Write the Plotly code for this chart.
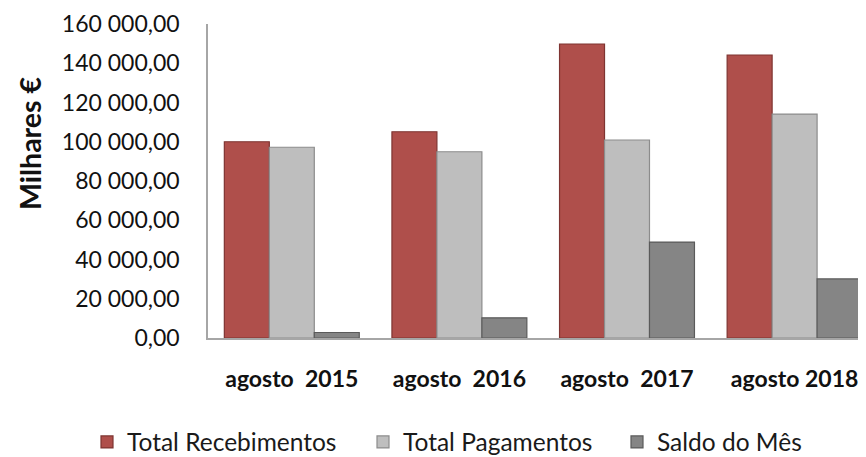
import plotly.graph_objects as go

categories = ["agosto\u00a0 2015", "agosto\u00a0 2016", "agosto\u00a0 2017", "agosto 2018"]
total_recebimentos = [100000, 105100, 149800, 144200]
total_pagamentos = [97200, 94900, 100900, 114100]
saldo_do_mes = [2800, 10300, 48900, 30100]
y_ticks = [0, 20000, 40000, 60000, 80000, 100000, 120000, 140000, 160000]

series = [
    ("Total Recebimentos", total_recebimentos, "#AF4F4B", "#7E3431", "legend"),
    ("Total Pagamentos", total_pagamentos, "#BEBEBE", "#8C8C8C", "legend2"),
    ("Saldo do Mês", saldo_do_mes, "#858585", "#5A5A5A", "legend3"),
]

fig = go.Figure()
for name, vals, col, edge, leg in series:
    fig.add_trace(go.Bar(
        name=name, x=categories, y=vals, legend=leg,
        marker=dict(color=col, line=dict(color=edge, width=1.2)),
    ))

FONT = "Lato"
# page body has an 8px margin: figure is sized/offset to compensate
W, H = 858, 449
legend_x = [79, 355, 609]


def leg(xpx):
    return dict(
        orientation="h", xref="container", yref="container",
        x=xpx / W, y=1 - 434 / H, xanchor="left", yanchor="middle",
        font=dict(family=FONT, size=24.5, color="#1a1a1a"),
        itemwidth=30, bgcolor="rgba(0,0,0,0)",
    )


fig.update_layout(
    width=W, height=H,
    margin=dict(l=200, r=0, t=16, b=119),
    plot_bgcolor="white", paper_bgcolor="white",
    barmode="group", bargap=0.195, bargroupgap=0,
    separators=", ",
    font=dict(family=FONT, color="#1a1a1a"),
    showlegend=True,
    legend=leg(legend_x[0]),
    legend2=leg(legend_x[1]),
    legend3=leg(legend_x[2]),
)
fig.update_yaxes(
    range=[0, 160000], tickvals=y_ticks, tickformat=",.2f",
    showgrid=False, zeroline=False, showline=True, linecolor="#A6A6A6", linewidth=1.5,
    ticks="", ticklabelstandoff=22,
    tickfont=dict(family=FONT, size=23, color="#111111"),
)
fig.update_xaxes(
    range=[-0.5, 3.426], showgrid=False, showline=True, linecolor="#A6A6A6", linewidth=1.5,
    ticks="", ticklabelstandoff=20,
    tickfont=dict(family=FONT, size=23, color="#111111", weight="bold"),
)
fig.add_annotation(
    text="<b>Milhares €</b>", textangle=-90,
    xref="paper", yref="paper", x=(22 - 200) / 658, y=(330 - 136) / 314,
    xanchor="center", yanchor="middle",
    showarrow=False, font=dict(family=FONT, size=28.5, color="#111111"),
)
fig.write_html("out.html")
